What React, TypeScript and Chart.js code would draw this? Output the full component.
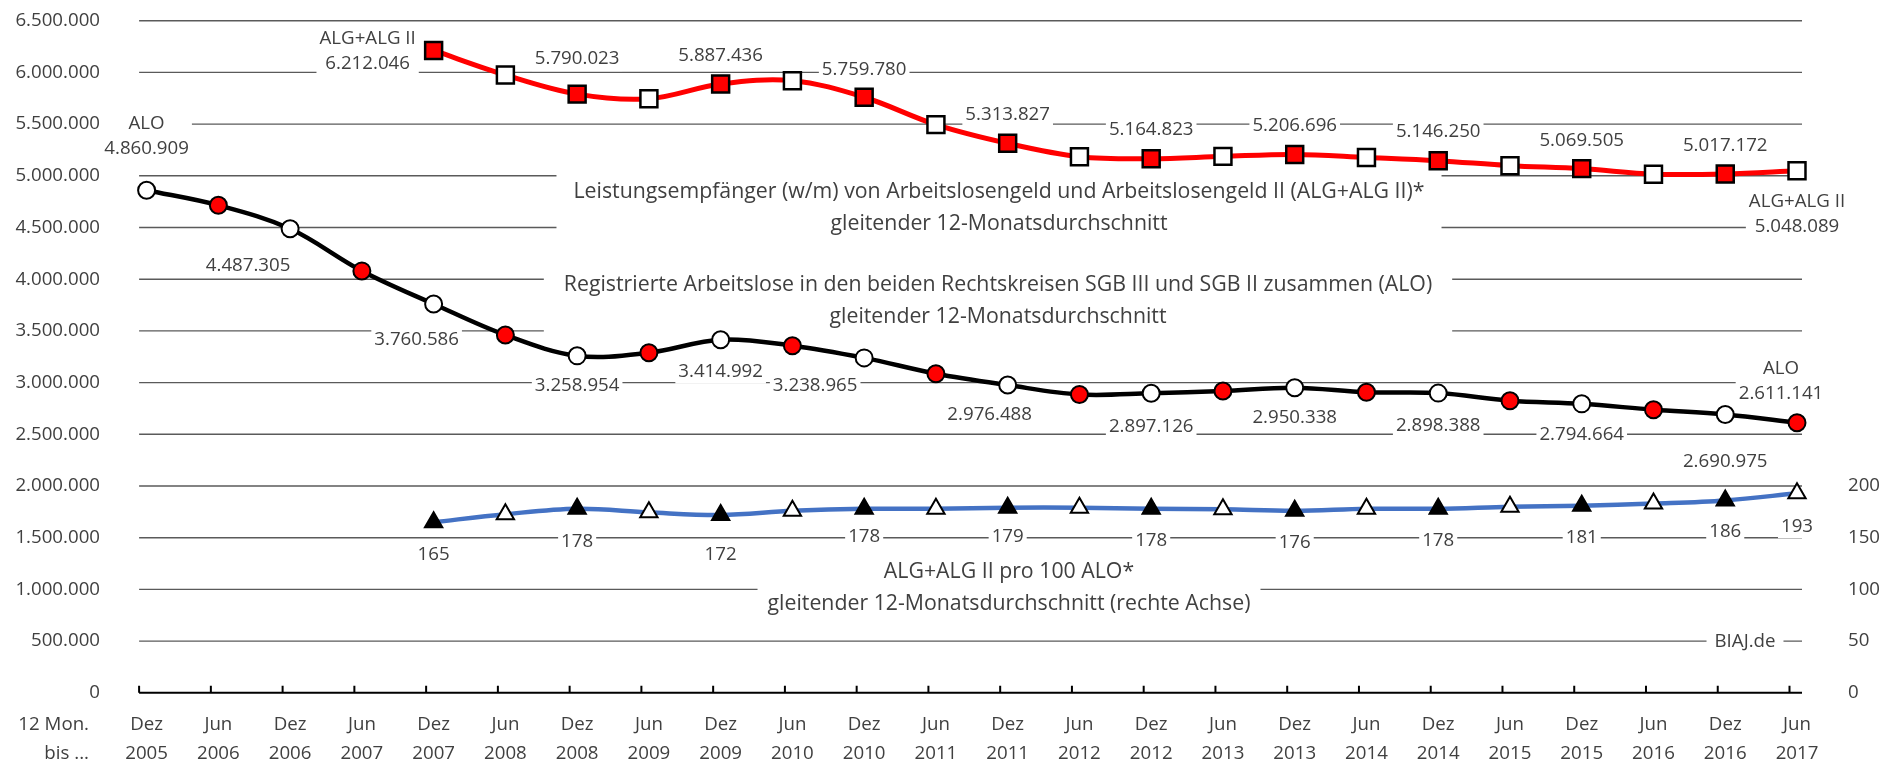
import React, { useEffect, useRef } from 'react';
import { Chart, registerables } from 'chart.js';

Chart.register(...registerables);

// ---------- DATA ----------
const periodMonths = ['Dez','Jun','Dez','Jun','Dez','Jun','Dez','Jun','Dez','Jun','Dez','Jun','Dez','Jun','Dez','Jun','Dez','Jun','Dez','Jun','Dez','Jun','Dez','Jun'];
const periodYears = ['2005','2006','2006','2007','2007','2008','2008','2009','2009','2010','2010','2011','2011','2012','2012','2013','2013','2014','2014','2015','2015','2016','2016','2017'];

// Registrierte Arbeitslose (ALO), gleitender 12-Monatsdurchschnitt
const aloValues = [
  4860909, 4715000, 4487305, 4080000, 3760586, 3460000, 3258954, 3289000,
  3414992, 3357000, 3238965, 3086000, 2976488, 2885000, 2897126, 2919000,
  2950338, 2906000, 2898388, 2825000, 2794664, 2738000, 2690975, 2611141,
];

// Leistungsempfänger ALG + ALG II
const algValues = [
  null, null, null, null, 6212046, 5975000, 5790023, 5745000,
  5887436, 5920000, 5759780, 5495000, 5313827, 5185000, 5164823, 5188000,
  5206696, 5178000, 5146250, 5098000, 5069505, 5016000, 5017172, 5048089,
];

// ALG+ALG II pro 100 ALO (rechte Achse)
const ratioValues = [
  null, null, null, null, 165, 172.7, 178, 174.5,
  172, 176, 178, 178, 179, 179, 178, 177.5,
  176, 178, 178, 180, 181, 183, 186, 193,
];

const leftAxisMax = 6500000;
const leftAxisStep = 500000;
const rightAxisMax = 650;
const rightAxisStep = 50;
const rightAxisLabelLimit = 200;

// labelled points: [index, prefix, dx, dy]
const aloLabelPoints: [number, string, number, number][] = [
  [0, 'ALO', 0, -42], [2, '', -42, 37], [4, '', -17, 36], [6, '', 0, 30],
  [8, '', 0, 32], [10, '', -49, 28], [12, '', -18, 30], [14, '', 0, 33],
  [16, '', 0, 30], [18, '', 0, 33], [20, '', 0, 31], [22, '', 0, 47], [23, 'ALO', -16, -29],
];
const algLabelPoints: [number, string, number, number][] = [
  [4, 'ALG+ALG II', -66, 13], [6, '', 0, -35], [8, '', 0, -28], [10, '', 0, -28],
  [12, '', 0, -29], [14, '', 0, -29], [16, '', 0, -29], [18, '', 0, -29],
  [20, '', 0, -28], [22, '', 0, -28], [23, 'ALG+ALG II', 0, 56],
];
const ratioLabelPoints: [number, string, number, number][] = [
  [4, '', 0, 32], [6, '', 0, 33], [8, '', 0, 40], [10, '', 0, 28], [12, '', 0, 29],
  [14, '', 0, 32], [16, '', 0, 31.5], [18, '', 0, 32], [20, '', 0, 32], [22, '', 0, 31], [23, '', 0, 33],
];

const annotationTexts = [
  ['Leistungsempfänger (w/m) von Arbeitslosengeld und Arbeitslosengeld II (ALG+ALG II)*', 'gleitender 12-Monatsdurchschnitt'],
  ['Registrierte Arbeitslose in den beiden Rechtskreisen SGB III und SGB II zusammen (ALO)', 'gleitender 12-Monatsdurchschnitt'],
  ['ALG+ALG II pro 100 ALO*', 'gleitender 12-Monatsdurchschnitt (rechte Achse)'],
  ['BIAJ.de'],
];
const axisCaption = ['12 Mon.', 'bis ...'];

// ---------- STYLE ----------
const FONT = '"Open Sans"';
const FS = 18.7;
const FS_BIG = 21.3;
const TEXT = '#404040';
const W = 1884;
const H = 763;

const annotationLayout = [
  { cx: 999, ys: [192, 223.5], padX: 17, size: FS_BIG },
  { cx: 998, ys: [285, 317], padX: 20, size: FS_BIG },
  { cx: 1009, ys: [572, 604], padX: 10, size: FS_BIG },
  { cx: 1745, ys: [642], padX: 8, size: FS },
];

const fmt = (v: number) => String(Math.round(v)).replace(/\B(?=(\d{3})+(?!\d))/g, '.');

const decorPlugin = {
  id: 'decor',
  beforeDatasetsDraw(chart: any) {
    const ctx = chart.ctx as CanvasRenderingContext2D;
    const xs = chart.scales.x;
    const ys = chart.scales.y;
    const x0 = xs.getPixelForValue(0) - 7.5;
    const x1 = xs.getPixelForValue(periodMonths.length - 1) + 5;
    ctx.save();
    // gridlines
    ctx.strokeStyle = '#5a5a5a';
    ctx.lineWidth = 1.4;
    for (let v = leftAxisStep; v <= leftAxisMax; v += leftAxisStep) {
      const py = ys.getPixelForValue(v);
      ctx.beginPath();
      ctx.moveTo(x0, py);
      ctx.lineTo(x1, py);
      ctx.stroke();
    }
    // axis line + ticks
    const yb = ys.getPixelForValue(0);
    ctx.strokeStyle = '#000';
    ctx.lineWidth = 2;
    ctx.beginPath();
    ctx.moveTo(x0, yb);
    ctx.lineTo(x1, yb);
    for (let i = 0; i < periodMonths.length; i++) {
      const tx = xs.getPixelForValue(i) - 7.5;
      ctx.moveTo(tx, yb);
      ctx.lineTo(tx, yb - 7);
    }
    ctx.stroke();

    ctx.textBaseline = 'middle';
    ctx.textAlign = 'center';

    // annotations
    annotationTexts.forEach((lines, k) => {
      const lay = annotationLayout[k];
      ctx.font = `${lay.size}px ${FONT}`;
      const wMax = Math.max(...lines.map((l) => ctx.measureText(l).width));
      const top = lay.ys[0] - 17;
      const bottom = lay.ys[lay.ys.length - 1] + 17;
      ctx.fillStyle = '#fff';
      ctx.fillRect(lay.cx - wMax / 2 - lay.padX, top, wMax + 2 * lay.padX, bottom - top);
      ctx.fillStyle = TEXT;
      lines.forEach((l, j) => ctx.fillText(l, lay.cx, lay.ys[j]));
    });

    ctx.font = `${FS}px ${FONT}`;
    // data labels
    const drawLabels = (dsIndex: number, values: (number | null)[], specs: [number, string, number, number][]) => {
      const meta = chart.getDatasetMeta(dsIndex);
      specs.forEach(([idx, prefix, dx, dy]) => {
        const el = meta.data[idx];
        const v = values[idx];
        if (!el || v == null) return;
        const cx = el.x + dx;
        const lines = prefix ? [prefix, fmt(v)] : [fmt(v)];
        const yLast = el.y + dy;
        const yFirst = yLast - 25 * (lines.length - 1);
        const wMax = Math.max(...lines.map((l) => ctx.measureText(l).width));
        ctx.fillStyle = '#fff';
        ctx.fillRect(cx - wMax / 2 - 3, yFirst - 12, wMax + 6, yLast - yFirst + 24);
        ctx.fillStyle = TEXT;
        lines.forEach((l, j) => ctx.fillText(l, cx, yFirst + 25 * j));
      });
    };
    drawLabels(0, algValues, algLabelPoints);
    drawLabels(1, aloValues, aloLabelPoints);
    drawLabels(2, ratioValues, ratioLabelPoints);

    // caption under left axis
    ctx.textAlign = 'right';
    ctx.fillStyle = TEXT;
    ctx.fillText(axisCaption[0], 89, 725);
    ctx.fillText(axisCaption[1], 89, 754);
    ctx.restore();
  },
};

export default function App() {
  const ref = useRef<HTMLCanvasElement | null>(null);

  useEffect(() => {
    document.body.style.margin = '0';
    const canvas = ref.current;
    if (!canvas) return;
    Chart.defaults.font.family = FONT;
    const labels = periodMonths.map((m, i) => [m, periodYears[i]]);
    const chart = new Chart(canvas, {
      type: 'line',
      data: {
        labels,
        datasets: [
          {
            label: 'ALG+ALG II',
            data: algValues,
            yAxisID: 'y',
            borderColor: '#ff0000',
            borderWidth: 5,
            tension: 0.35,
            pointStyle: 'rect',
            pointRadius: 12,
            pointBorderWidth: 2.5,
            pointBorderColor: '#000',
            pointBackgroundColor: algValues.map((_, i) => (i % 2 === 0 ? '#ff0000' : '#ffffff')),
          },
          {
            label: 'ALO',
            data: aloValues,
            yAxisID: 'y',
            borderColor: '#000000',
            borderWidth: 4.5,
            tension: 0.35,
            pointStyle: 'circle',
            pointRadius: 8.5,
            pointBorderWidth: 2,
            pointBorderColor: '#000',
            pointBackgroundColor: aloValues.map((_, i) => (i % 2 === 0 ? '#ffffff' : '#ff0000')),
          },
          {
            label: 'ALG+ALG II pro 100 ALO',
            data: ratioValues,
            yAxisID: 'y2',
            borderColor: '#4472c4',
            borderWidth: 4.5,
            tension: 0.35,
            pointStyle: 'triangle',
            pointRadius: 10,
            pointBorderWidth: 2,
            pointBorderColor: '#000',
            pointBackgroundColor: ratioValues.map((_, i) => (i % 2 === 0 ? '#000000' : '#ffffff')),
          },
        ],
      },
      options: {
        responsive: false,
        animation: false,
        devicePixelRatio: 1,
        layout: { padding: { top: 20.7, left: 0, right: 0, bottom: 0 } },
        plugins: { legend: { display: false }, tooltip: { enabled: false } },
        scales: {
          x: {
            type: 'category',
            offset: false,
            grid: { display: false, drawTicks: true, tickLength: 12 },
            border: { display: false },
            ticks: {
              color: TEXT,
              font: { size: FS, lineHeight: 29 / FS, family: FONT },
              padding: 5.7,
              maxRotation: 0,
              autoSkip: false,
            },
            afterFit(s: any) { s.height = H - 692.8; },
          },
          y: {
            position: 'left',
            min: 0,
            max: leftAxisMax,
            grid: { display: false, drawTicks: true, tickLength: 40.6 },
            border: { display: false },
            ticks: {
              stepSize: leftAxisStep,
              color: TEXT,
              font: { size: FS, family: FONT },
              padding: 6,
              callback: (v: any) => fmt(Number(v)),
            },
            afterFit(s: any) { s.width = 146.6; },
          },
          y2: {
            position: 'right',
            min: 0,
            max: rightAxisMax,
            grid: { display: false, drawTicks: true, tickLength: 45 },
            border: { display: false },
            ticks: {
              stepSize: rightAxisStep,
              color: TEXT,
              font: { size: FS, family: FONT },
              padding: 6,
              callback: (v: any) => (Number(v) <= rightAxisLabelLimit ? String(v) : ''),
            },
            afterFit(s: any) { s.width = W - 1797; },
          },
        },
      },
      plugins: [decorPlugin],
    } as any);
    return () => chart.destroy();
  }, []);

  return (
    <div style={{ position: 'fixed', left: 0, top: 0, width: W, height: H, background: '#fff' }}>
      <canvas ref={ref} width={W} height={H} style={{ display: 'block' }} />
    </div>
  );
}
